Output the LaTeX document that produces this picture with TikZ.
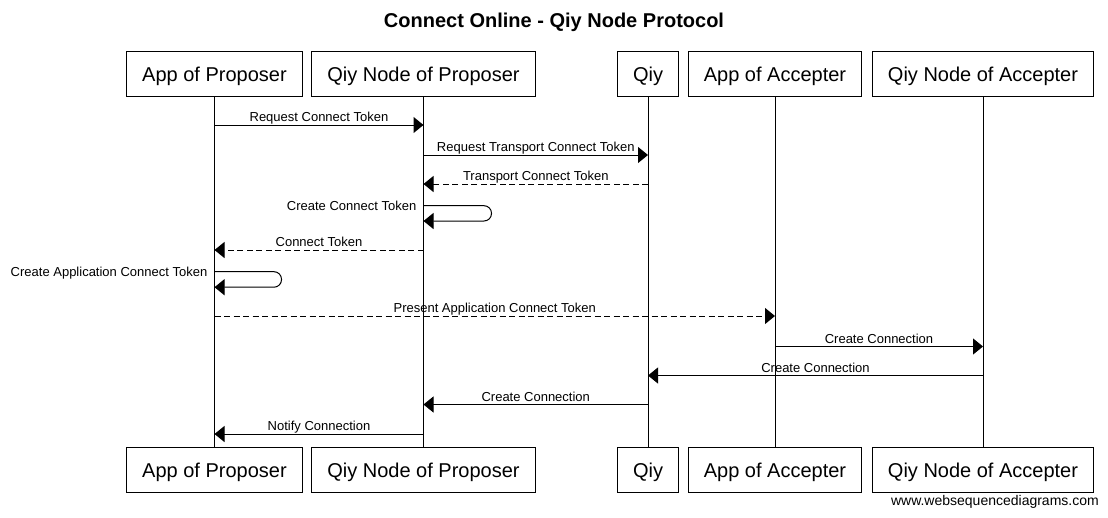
\documentclass[tikz,border=0pt]{standalone}
\usepackage{fontspec}
\setmainfont{Liberation Sans}
\usetikzlibrary{arrows.meta}
\newlength{\du}
\setlength{\du}{1pt}

\begin{document}
\begin{tikzpicture}[x=1\du,y=-1\du,
  actor/.style={draw=black,fill=white,line width=1\du,minimum height=45\du,
    inner xsep=15.5\du,inner ysep=0pt,text height=15\du,text depth=0pt,
    font=\fontsize{20}{24}\selectfont},
  life/.style={draw=black,line width=1\du},
  msg/.style={draw=black,line width=1\du,-{Triangle[length=10pt,width=16pt]}},
  reply/.style={msg,dash pattern=on 6\du off 3.5\du},
  lbl/.style={font=\fontsize{13}{15}\selectfont,inner sep=0pt,anchor=base,yshift=3.5\du},
  selflbl/.style={font=\fontsize{13}{15}\selectfont,inner sep=0pt,anchor=base east}]
\useasboundingbox (0,0) rectangle (1108,517);
% title
\node[font=\fontsize{20}{24}\selectfont\bfseries,anchor=base] (title) at (554,27.5) {Connect Online - Qiy Node Protocol};
% participants, top row
\node[actor] (appP) at (214.5,73.5) {App of Proposer};
\node[actor] (qnP) at (423.5,73.5) {Qiy Node of Proposer};
\node[actor] (qiy) at (648,73.5) {Qiy};
\node[actor] (appA) at (775,73.5) {App of Accepter};
\node[actor] (qnA) at (983,73.5) {Qiy Node of Accepter};
% participants, bottom row
\node[actor] (appPb) at (214.5,469.5) {App of Proposer};
\node[actor] (qnPb) at (423.5,469.5) {Qiy Node of Proposer};
\node[actor] (qiyb) at (648,469.5) {Qiy};
\node[actor] (appAb) at (775,469.5) {App of Accepter};
\node[actor] (qnAb) at (983,469.5) {Qiy Node of Accepter};
% lifelines
\draw[life] (appP) -- (appPb);
\draw[life] (qnP) -- (qnPb);
\draw[life] (qiy) -- (qiyb);
\draw[life] (appA) -- (appAb);
\draw[life] (qnA) -- (qnAb);
% message rows
\coordinate (m1) at (0,125);
\coordinate (m2) at (0,155);
\coordinate (m3) at (0,184);
\coordinate (m4) at (0,205.7);
\coordinate (m4b) at (0,221);
\coordinate (m5) at (0,250);
\coordinate (m6) at (0,271.7);
\coordinate (m6b) at (0,287.2);
\coordinate (m7) at (0,316);
\coordinate (m8) at (0,346.5);
\coordinate (m9) at (0,375.5);
\coordinate (m10) at (0,404.5);
\coordinate (m11) at (0,434);
% messages
\draw[msg] (appP |- m1) -- (qnP |- m1) node[lbl,midway] {Request Connect Token};
\draw[msg] (qnP |- m2) -- (qiy |- m2) node[lbl,midway] {Request Transport Connect Token};
\draw[reply] (qiy |- m3) -- (qnP |- m3) node[lbl,midway] {Transport Connect Token};
\draw[msg,rounded corners=7.5\du] (qnP |- m4) -- ++(68,0) -- ++(0,15.3) -- (qnP |- m4b);
\node[selflbl] (l4) at ([xshift=-7\du,yshift=-4.5\du]qnP |- m4) {Create Connect Token};
\draw[reply] (qnP |- m5) -- (appP |- m5) node[lbl,midway] {Connect Token};
\draw[msg,rounded corners=7.5\du] (appP |- m6) -- ++(67,0) -- ++(0,15.5) -- (appP |- m6b);
\node[selflbl] (l6) at ([xshift=-7\du,yshift=-4.5\du]appP |- m6) {Create Application Connect Token};
\draw[reply] (appP |- m7) -- (appA |- m7) node[lbl,midway] {Present Application Connect Token};
\draw[msg] (appA |- m8) -- (qnA |- m8) node[lbl,midway] {Create Connection};
\draw[msg] (qnA |- m9) -- (qiy |- m9) node[lbl,midway] {Create Connection};
\draw[msg] (qiy |- m10) -- (qnP |- m10) node[lbl,midway] {Create Connection};
\draw[msg] (qnP |- m11) -- (appP |- m11) node[lbl,midway] {Notify Connection};
% watermark
\node[font=\fontsize{14}{16}\selectfont,inner sep=0pt,anchor=base east] (wsd) at (1099,505) {www.websequencediagrams.com};
\end{tikzpicture}
\end{document}
